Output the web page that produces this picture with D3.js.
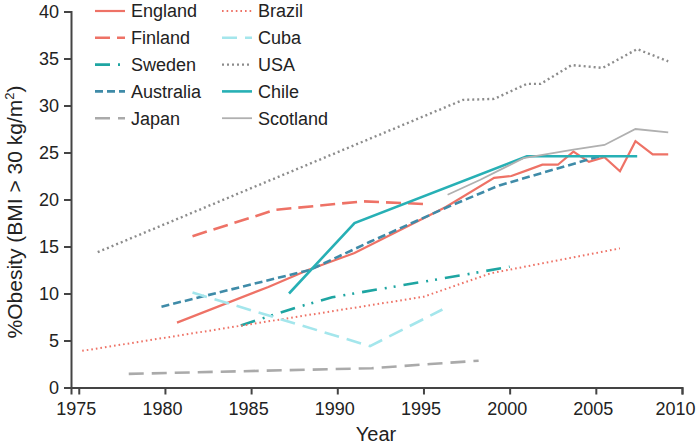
<!DOCTYPE html>
<html>
<head>
<meta charset="utf-8">
<script src="https://cdn.jsdelivr.net/npm/d3@7"></script>
<style>
  body { margin: 0; background: #fff; }
  text { font-family: "Liberation Sans", Arial, sans-serif; fill: #222; }
</style>
</head>
<body>
<div id="chart"></div>
<script>
// values: [year, % obese]
const england = [[1980.7, 6.9], [1986.0, 10.7], [1988.3, 12.5], [1991.0, 14.3], [1996.3, 19.2],
  [1999.1, 22.3], [2000.1, 22.5], [2001.0, 23.1], [2001.9, 23.7], [2002.8, 23.7], [2003.7, 25.1],
  [2004.6, 24.0], [2005.5, 24.5], [2006.4, 23.0], [2007.3, 26.2], [2008.3, 24.8], [2009.2, 24.8]];
const finland = [[1981.6, 16.1], [1986.4, 18.9], [1991.5, 19.8], [1995.3, 19.5]];
const sweden = [[1984.4, 6.6], [1987.6, 8.5], [1989.7, 9.6], [1991.6, 10.2], [1997.4, 12.0], [2000.0, 12.85]];
const australia = [[1979.8, 8.6], [1988.4, 12.5], [1991.9, 15.5], [1996.4, 19.2], [1999.4, 21.5], [2005.4, 24.7]];
const japan = [[1977.9, 1.45], [1992.0, 2.05], [1995.4, 2.5], [1998.2, 2.85]];
const brazil = [[1975.2, 3.9], [1995.0, 9.65], [1998.9, 12.15], [2006.4, 14.8]];
const cuba = [[1981.6, 10.1], [1991.9, 4.4], [1996.1, 8.3]];
const usa = [[1976.1, 14.4], [1997.3, 30.6], [1999.1, 30.7], [2001.0, 32.3], [2001.8, 32.3],
  [2003.6, 34.3], [2005.4, 34.0], [2007.4, 36.0], [2009.2, 34.7]];
const chile = [[1987.2, 10.0], [1991.0, 17.5], [2001.0, 24.6], [2007.4, 24.6]];
const scotland = [[1996.4, 20.5], [1998.3, 22.1], [2000.8, 24.4], [2003.7, 25.3], [2005.5, 25.8],
  [2007.3, 27.5], [2009.2, 27.15]];

const xTicks = [1975, 1980, 1985, 1990, 1995, 2000, 2005, 2010];
const yTicks = [0, 5, 10, 15, 20, 25, 30, 35, 40];

const series = [
  { name: "England", data: england, color: "#ee7266", dash: null, w: 2.2 },
  { name: "Finland", data: finland, color: "#ee7266", dash: "15,7", w: 2.6 },
  { name: "Sweden", data: sweden, color: "#1ea5a2", dash: "15,8,2,7,2,8", w: 2.6 },
  { name: "Australia", data: australia, color: "#3f8ba8", dash: "8,4", w: 2.6 },
  { name: "Japan", data: japan, color: "#aaaaaa", dash: "15,8", w: 2.6 },
  { name: "Brazil", data: brazil, color: "#ee7266", dash: "1.6,3", w: 2 },
  { name: "Cuba", data: cuba, color: "#a4e6ec", dash: "15,8", w: 2.6 },
  { name: "USA", data: usa, color: "#8c8c8c", dash: "2,3", w: 2.4 },
  { name: "Chile", data: chile, color: "#27b0b5", dash: null, w: 2.6 },
  { name: "Scotland", data: scotland, color: "#b0b0b0", dash: null, w: 1.8 },
];

const width = 700, height = 446;
const x = d3.scaleLinear().domain([1974.55, 2010]).range([71, 682]);
const y = d3.scaleLinear().domain([0, 40]).range([387.5, 11.5]);

const svg = d3.select("#chart").append("svg")
  .attr("width", width).attr("height", height);

const line = d3.line().x(d => x(d[0])).y(d => y(d[1]));

svg.append("g").selectAll("path")
  .data(series)
  .join("path")
  .attr("d", d => line(d.data))
  .attr("fill", "none")
  .attr("stroke", d => d.color)
  .attr("stroke-width", d => d.w)
  .attr("stroke-dasharray", d => d.dash);

// axes
const xAxis = svg.append("g")
  .attr("transform", `translate(0,${y(0)})`)
  .call(d3.axisBottom(x).tickValues(xTicks).tickFormat(d3.format("d")).tickSize(7).tickPadding(8));
const yAxis = svg.append("g")
  .attr("transform", `translate(${x.range()[0]},0)`)
  .call(d3.axisLeft(y).tickValues(yTicks).tickSize(7).tickPadding(5));

for (const ax of [xAxis, yAxis]) {
  ax.selectAll("path, line").attr("stroke", "#444").attr("stroke-width", 2);
  ax.selectAll("text").style("font-size", "18px").attr("fill", "#222");
}
// labels sit a little left of their ticks in the original; last one most
xAxis.selectAll(".tick text").attr("x", d => d === 2010 ? -7 : -3);

svg.append("text")
  .attr("x", 376).attr("y", 441)
  .attr("text-anchor", "middle")
  .style("font-size", "20px")
  .text("Year");

const yt = svg.append("text")
  .attr("transform", "translate(22,212) rotate(-90)")
  .attr("text-anchor", "middle")
  .style("font-size", "21px");
yt.append("tspan").text("%Obesity (BMI > 30 kg/m");
yt.append("tspan").attr("dy", -8).style("font-size", "13px").text("2");
yt.append("tspan").attr("dy", 8).text(")");

// legend, two columns of five
const legend = svg.append("g").selectAll("g")
  .data(series)
  .join("g")
  .attr("transform", (d, i) => `translate(${i < 5 ? 95 : 222},${11 + (i % 5) * 26.8})`);

legend.append("line")
  .attr("x1", 0).attr("x2", 30)
  .attr("stroke", d => d.color)
  .attr("stroke-width", d => d.w)
  .attr("stroke-dasharray", d => d.dash);

legend.append("text")
  .attr("x", 36).attr("dy", "0.35em")
  .style("font-size", "18px")
  .text(d => d.name);
</script>
</body>
</html>
